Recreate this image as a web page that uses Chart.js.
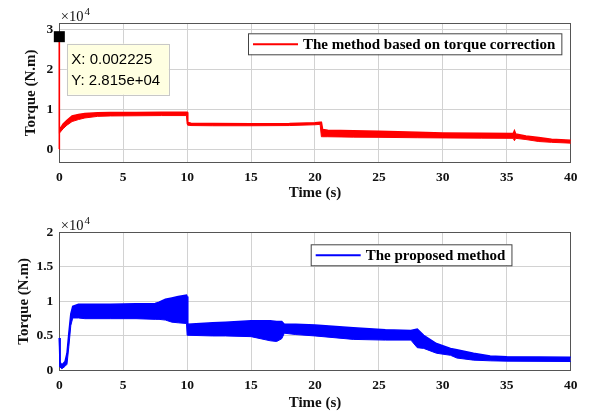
<!DOCTYPE html>
<html>
<head>
<meta charset="utf-8">
<script src="https://cdn.jsdelivr.net/npm/chart.js@4/dist/chart.umd.min.js"></script>
<style>
  body { margin: 0; background: #fff; }
  #wrap { position: relative; width: 590px; height: 414px; }
  .pane { position: absolute; left: 0; width: 590px; height: 207px; }
</style>
</head>
<body>
<div id="wrap">
  <div class="pane" style="top:0"><canvas id="topChart" width="590" height="207"></canvas></div>
  <div class="pane" style="top:207px"><canvas id="bottomChart" width="590" height="207"></canvas></div>
</div>
<script>
// 横軸の目盛り (s)
const timeTicks = [0, 5, 10, 15, 20, 25, 30, 35, 40];

// 上段: トルク補正に基づく手法 (N.m) — 振動の帯を上下の包絡線で表す
const redTime  = [0, 0.002225, 0.01, 0.3, 0.6, 1.0, 1.5, 2.0, 3.0, 4.0, 6.0, 8.0, 9.95, 10.0, 10.05, 10.3, 12, 15, 18, 20.0, 20.4, 20.5, 20.6, 21, 23, 25, 28, 30, 33, 35.5, 35.6, 35.7, 36.5, 37.5, 38.5, 40];
const redUpper = [0, 28150, 4800, 6300, 7200, 8300, 8700, 8900, 9100, 9150, 9150, 9200, 9200, 9200, 6700, 6500, 6400, 6350, 6400, 6600, 6700, 6700, 4900, 4700, 4600, 4500, 4200, 4050, 3950, 3900, 4600, 3800, 3300, 2900, 2500, 2200];
const redLower = [0, 28150, 4000, 5100, 6000, 6900, 7400, 7800, 8200, 8300, 8350, 8400, 8400, 6300, 6000, 5900, 5850, 5850, 5900, 6100, 6200, 3100, 3100, 3100, 3000, 2950, 2850, 2800, 2750, 2700, 2100, 2700, 2400, 1900, 1700, 1500];
const topTicks = [0, 10000, 20000, 30000];

// 下段: 提案手法 (N.m)
const blueTime  = [0, 0.05, 0.2, 0.45, 0.6, 0.75, 0.9, 1.05, 1.5, 2, 4, 6, 7.5, 7.8, 8.3, 8.8, 9.3, 9.95, 10.0, 10.05, 12, 13, 15, 16.5, 17.0, 17.4, 17.6, 18.5, 20, 23, 25.5, 27.5, 28, 28.5, 29.5, 30.6, 31.1, 32.4, 33.7, 35, 40];
const blueUpper = [4700, 1200, 800, 1300, 2500, 5500, 8200, 9300, 9600, 9600, 9600, 9650, 9700, 9900, 10300, 10500, 10700, 10900, 10700, 6700, 6900, 7000, 7200, 7200, 7100, 7100, 6700, 6700, 6600, 6200, 5900, 5800, 6000, 5100, 3900, 3200, 3000, 2500, 2100, 2000, 1900];
const blueLower = [4700, 500, 250, 600, 900, 3500, 6500, 7600, 7600, 7500, 7500, 7500, 7400, 7400, 7300, 7000, 6900, 6800, 5100, 5100, 5000, 5000, 4900, 4300, 4200, 4600, 5400, 5200, 5000, 4500, 4400, 4400, 3300, 3200, 2500, 2200, 1800, 1500, 1400, 1350, 1300];
const bottomTicks = [0, 5000, 10000, 15000, 20000];

// データチップ
const tipX = 0.002225;
const tipY = 28150;

const textColor = "#111";
const gridColor = "#d2d2d2";
const axisColor = "#555";
const serif = '"Liberation Serif", "Times New Roman", serif';

function toPoints(xs, ys) {
  return xs.map((x, i) => ({ x: x, y: ys[i] }));
}

// 枠線・×10^4・凡例・データチップを描くプラグイン
const decorPlugin = {
  id: "decor",
  // 枠線はデータの下に描く
  beforeDatasetsDraw(chart) {
    const ctx = chart.ctx;
    const a = chart.chartArea;
    ctx.save();
    ctx.strokeStyle = axisColor;
    ctx.lineWidth = 1;
    ctx.strokeRect(Math.round(a.left) + 0.5, Math.round(a.top) + 0.5, Math.round(a.right - a.left), Math.round(a.bottom - a.top));
    ctx.restore();
  },
  afterDraw(chart, args, opts) {
    const ctx = chart.ctx;
    const a = chart.chartArea;
    ctx.save();

    // ×10^4
    ctx.fillStyle = textColor;
    ctx.textBaseline = "alphabetic";
    ctx.textAlign = "left";
    ctx.font = "14.5px " + serif;
    ctx.fillText("×10", a.left + 1.5, a.top - 2);
    const w = ctx.measureText("×10").width;
    ctx.font = "11px " + serif;
    ctx.fillText("4", a.left + 2.5 + w, a.top - 8);

    // 凡例
    const lg = opts.legend;
    ctx.font = "bold 15px " + serif;
    const tw = ctx.measureText(lg.text).width;
    const bh = 21;
    const bw = 55 + tw + 6;
    ctx.fillStyle = "#fff";
    ctx.fillRect(lg.x, lg.y, bw, bh);
    ctx.strokeStyle = "#444";
    ctx.lineWidth = 1;
    ctx.strokeRect(lg.x + 0.5, lg.y + 0.5, bw, bh);
    ctx.strokeStyle = lg.color;
    ctx.lineWidth = 2;
    ctx.beginPath();
    ctx.moveTo(lg.x + 5, lg.y + bh / 2 + 0.5);
    ctx.lineTo(lg.x + 50, lg.y + bh / 2 + 0.5);
    ctx.stroke();
    ctx.fillStyle = "#000";
    ctx.textBaseline = "middle";
    ctx.fillText(lg.text, lg.x + 55, lg.y + bh / 2 + 1);

    // データチップ
    if (opts.tip) {
      const px = chart.scales.x.getPixelForValue(opts.tip.x);
      const py = chart.scales.y.getPixelForValue(opts.tip.y);
      ctx.fillStyle = "#000";
      ctx.fillRect(px - 5.5, py - 5.5, 11, 11);
      const bx = px + 7.5, by = py + 7;
      ctx.fillStyle = "#ffffe1";
      ctx.fillRect(bx, by, 102, 51);
      ctx.strokeStyle = "#c8c8c8";
      ctx.lineWidth = 1;
      ctx.strokeRect(Math.round(bx) + 0.5, Math.round(by) + 0.5, 102, 51);
      ctx.fillStyle = "#000";
      ctx.font = '15px "Liberation Sans", Arial, sans-serif';
      ctx.textBaseline = "middle";
      ctx.fillText("X: " + opts.tip.x, bx + 4.5, by + 16);
      ctx.fillText("Y: " + opts.tip.y.toExponential(3).replace("e+4", "e+04"), bx + 4.5, by + 37);
    }
    ctx.restore();
  },
};

function makeChart(id, cfg) {
  const ctx = document.getElementById(id).getContext("2d");
  return new Chart(ctx, {
    type: "line",
    data: {
      datasets: [
        {
          data: toPoints(cfg.time, cfg.upper),
          borderColor: cfg.color,
          borderWidth: 1.5,
          pointRadius: 0,
          fill: false,
          clip: 2,
        },
        {
          data: toPoints(cfg.time, cfg.lower),
          borderColor: cfg.color,
          backgroundColor: cfg.color,
          borderWidth: 1,
          pointRadius: 0,
          fill: "-1",
          clip: 2,
        },
      ],
    },
    options: {
      responsive: false,
      animation: false,
      events: [],
      layout: { padding: { left: cfg.padLeft, right: 19.3, top: cfg.padTop, bottom: cfg.padBottom } },
      scales: {
        x: {
          type: "linear",
          min: 0,
          max: 40,
          afterBuildTicks: (s) => { s.ticks = timeTicks.map((v) => ({ value: v })); },
          afterFit: (s) => { s.height = cfg.xHeight; },
          grid: { color: gridColor, drawTicks: false },
          border: { display: false },
          ticks: { font: { family: serif, size: 13.5, weight: "bold" }, color: textColor, padding: 7, maxRotation: 0 },
          title: { display: true, text: "Time (s)", color: textColor, font: { family: serif, size: 15, weight: "bold" }, padding: { top: 0, bottom: 0 } },
        },
        y: {
          type: "linear",
          min: cfg.yMin,
          max: cfg.yMax,
          afterBuildTicks: (s) => { s.ticks = cfg.yTicks.map((v) => ({ value: v })); },
          afterFit: (s) => { s.width = 59.3 - cfg.padLeft; },
          grid: { color: gridColor, drawTicks: false },
          border: { display: false },
          ticks: { font: { family: serif, size: 13.5, weight: "bold" }, color: textColor, padding: 6, callback: (v) => String(v / 10000) },
          title: { display: true, text: "Torque (N.m)", color: textColor, font: { family: serif, size: 15, weight: "bold" } },
        },
      },
      plugins: {
        legend: { display: false },
        tooltip: { enabled: false },
        decor: { legend: cfg.legend, tip: cfg.tip },
      },
    },
    plugins: [decorPlugin],
  });
}

makeChart("topChart", {
  time: redTime, upper: redUpper, lower: redLower, color: "#ff0000",
  yMin: -3300, yMax: 31500, yTicks: topTicks,
  padLeft: 18, padTop: 23.3, padBottom: 5, xHeight: 39.7,
  legend: { x: 248, y: 33.3, text: "The method based on torque correction", color: "#ff0000" },
  tip: { x: tipX, y: tipY },
});

makeChart("bottomChart", {
  time: blueTime, upper: blueUpper, lower: blueLower, color: "#0000ff",
  yMin: 0, yMax: 20000, yTicks: bottomTicks,
  padLeft: 11, padTop: 25.3, padBottom: 1.7, xHeight: 41.8,
  legend: { x: 310.7, y: 37.3, text: "The proposed method", color: "#0000ff" },
  tip: null,
});
</script>
</body>
</html>
